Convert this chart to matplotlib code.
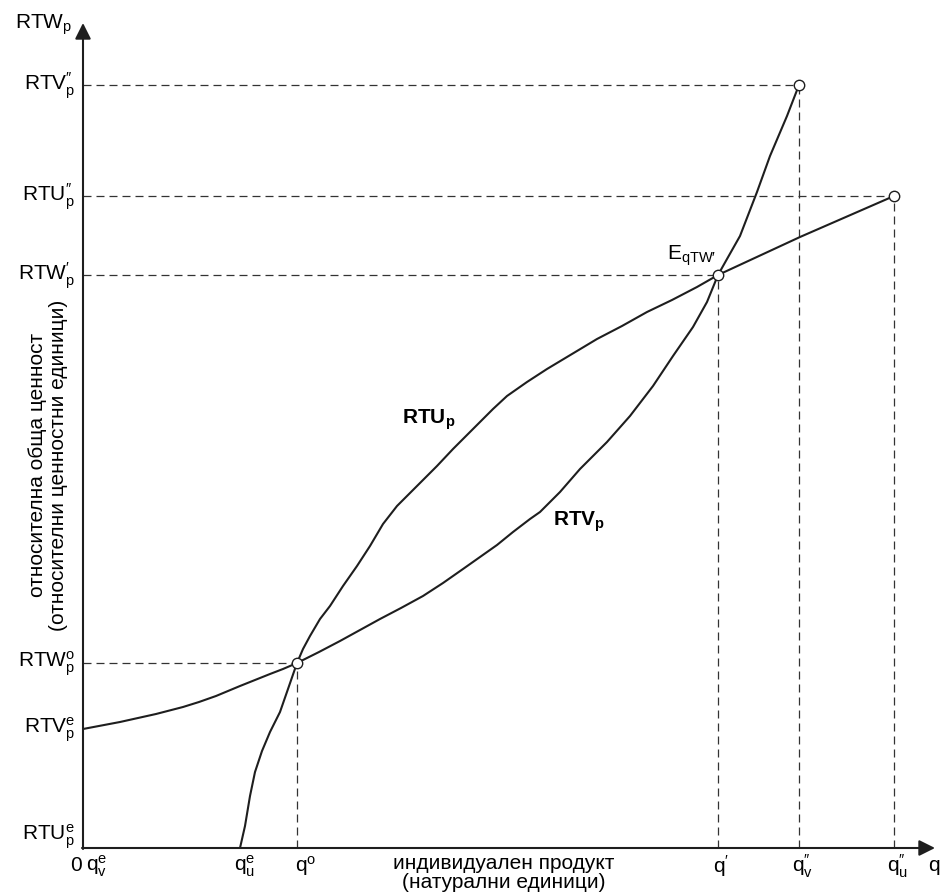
import matplotlib

matplotlib.use("Agg")
import matplotlib.pyplot as plt

plt.rcParams["font.family"] = ["Liberation Sans", "DejaVu Sans"]
plt.rcParams["mathtext.fontset"] = "custom"
plt.rcParams["mathtext.rm"] = "Liberation Sans"
plt.rcParams["mathtext.it"] = "Liberation Sans:italic"
plt.rcParams["mathtext.bf"] = "Liberation Sans:bold"

# RTV_p curve (q, value)
rtv_q = [0, 37, 73, 100, 116, 133, 157, 172, 187, 200, 214,
         236, 257, 277, 297, 318, 340, 360, 380, 397, 414, 430, 447, 457,
         477, 497, 524, 547, 570, 590, 610, 624, 635,
         644, 657, 674, 687, 704, 716]
rtv_val = [119, 126, 134, 141, 146, 152, 162, 168, 174, 179, 185,
           196, 207, 218, 229, 240, 252, 265, 279, 291, 303, 316, 329, 336,
           356, 379, 406, 432, 462, 492, 521, 546, 573,
           589, 612, 656, 692, 732, 763]

# RTU_p curve (q, value)
rtu_q = [157, 162, 167, 172, 179, 187, 197, 205, 214,
         220, 227, 237, 247, 260, 274, 287, 300, 314, 334, 354, 370,
         397, 410, 424, 444, 464, 489, 514, 539, 564, 589, 614, 635,
         717, 811]
rtu_val = [0, 22, 52, 76, 97, 116, 136, 159, 185,
           199, 212, 229, 242, 262, 282, 302, 324, 342, 362, 382, 399,
           426, 439, 452, 466, 479, 494, 509, 522, 536, 548, 561, 573,
           611, 652]

# marked points: q°, q', q''_v, q''_u
point_q = [214, 635, 716, 811]
point_val = [185, 573, 763, 652]

y_labels = [r"RTV$_\mathrm{p}^\mathrm{″}$", r"RTU$_\mathrm{p}^\mathrm{″}$",
            r"RTW$_\mathrm{p}^\mathrm{′}$", r"RTW$_\mathrm{p}^\mathrm{o}$",
            r"RTV$_\mathrm{p}^\mathrm{e}$", r"RTU$_\mathrm{p}^\mathrm{e}$"]
y_label_pos = [763, 652, 573, 185, 119, 12]

x_labels = ["0", r"q$_\mathrm{v}^\mathrm{e}$", r"q$_\mathrm{u}^\mathrm{e}$", r"q$^\mathrm{o}$",
            r"q$^\mathrm{′}$", r"q$_\mathrm{v}^\mathrm{″}$", r"q$_\mathrm{u}^\mathrm{″}$", "q"]
x_label_pos = [-7, 14, 162, 223, 638, 720, 815, 851]

line_col = "#1e1e1e"
fs = 15

fig = plt.figure(figsize=(9.48, 8.95), dpi=100)
ax = fig.add_axes([83 / 948, 46 / 895, 865 / 948, 849 / 895])
ax.set_xlim(0, 865)
ax.set_ylim(0, 849)
ax.axis("off")

# axes with arrows
ax.annotate("", xy=(852, 0), xytext=(-1, 0), annotation_clip=False,
            arrowprops=dict(arrowstyle="-|>", mutation_scale=24, lw=1.5,
                            color=line_col, shrinkA=0, shrinkB=0))
ax.annotate("", xy=(0, 825), xytext=(0, -1), annotation_clip=False,
            arrowprops=dict(arrowstyle="-|>", mutation_scale=24, lw=1.5,
                            color=line_col, shrinkA=0, shrinkB=0))

# dashed guide lines
dash = (0, (6.4, 4.0))
for q, v in zip(point_q, point_val):
    ax.plot([0, q], [v, v], ls=dash, lw=0.9, color="#333333", zorder=1)
    ax.plot([q, q], [0, v], ls=dash, lw=0.9, color="#333333", zorder=1)

# curves
ax.plot(rtv_q, rtv_val, color=line_col, lw=1.5, zorder=2,
        solid_capstyle="round", solid_joinstyle="round")
ax.plot(rtu_q, rtu_val, color=line_col, lw=1.5, zorder=2,
        solid_capstyle="round", solid_joinstyle="round")
ax.plot(point_q, point_val, ls="none", marker="o", ms=7.5, mfc="white",
        mec=line_col, mew=1.0, zorder=3)

# tick-like labels
for lab, v in zip(y_labels, y_label_pos):
    ax.text(-8, v, lab, ha="right", va="center", fontsize=fs)
ax.text(-11, 824, r"RTW$_\mathrm{p}$", ha="right", va="center", fontsize=fs)
for lab, q in zip(x_labels, x_label_pos):
    ax.text(q, -17, lab, ha="center", va="center", fontsize=fs)

# axis titles
ax.text(421, -15, "индивидуален продукт", ha="center", va="center", fontsize=fs)
ax.text(421, -34, "(натурални единици)", ha="center", va="center", fontsize=fs)
ax.text(-45, 384, "относителна обща ценност", ha="center", va="center",
        rotation=90, fontsize=fs)
ax.text(-24, 384, "(относителни ценностни единици)", ha="center", va="center",
        rotation=90, fontsize=fs)

# curve labels
ax.text(319, 429, r"$\mathbf{RTU}_\mathbf{p}$", ha="left", va="center", fontsize=fs)
ax.text(470, 327, r"$\mathbf{RTV}_\mathbf{p}$", ha="left", va="center", fontsize=fs)
ax.text(584, 593, r"E$_{\mathrm{qTW′}}$", ha="left", va="center", fontsize=fs)

fig.savefig("out.png", dpi=100)
